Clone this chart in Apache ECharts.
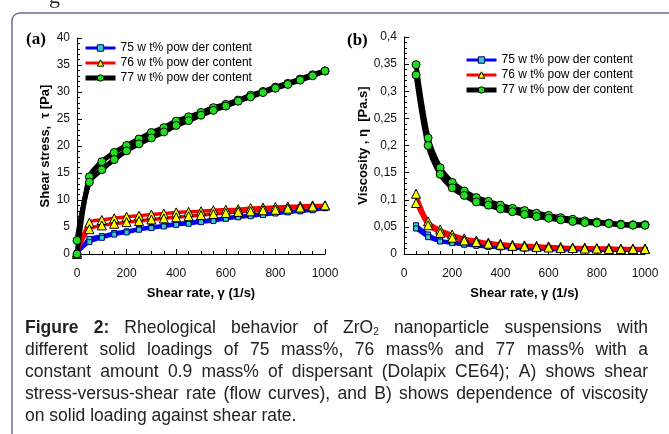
<!DOCTYPE html>
<html><head><meta charset="utf-8">
<script src="https://cdn.jsdelivr.net/npm/echarts@6/dist/echarts.min.js"></script>
<style>html,body{margin:0;padding:0;background:#fff}#c{width:669px;height:434px}</style>
</head><body><div id="c"></div>
<script>
// ---------- data ----------
const seriesNames = ['75 w t% pow der content', '76 w t% pow der content', '77 w t% pow der content'];

// (a) shear stress [Pa] vs shear rate [1/s]
const shearRate = [0,50,100,150,200,250,300,350,400,450,500,550,600,650,700,750,800,850,900,950,1000];
const stress75Up   = [0,2.8,3.3,3.9,4.2,4.7,5.0,5.3,5.6,5.9,6.1,6.4,6.7,7.0,7.2,7.4,7.6,7.8,8.0,8.2,8.5];
const stress75Down = [0.2,2.2,3.0,3.6,4.0,4.5,4.8,5.1,5.4,5.6,5.9,6.1,6.5,6.8,7.0,7.2,7.5,7.7,7.9,8.1,8.5];
const stress76Up   = [0,5.8,6.3,6.6,6.9,7.1,7.3,7.5,7.7,7.8,7.9,8.1,8.2,8.3,8.5,8.6,8.7,8.8,8.9,9.0,9.0];
const stress76Down = [0.3,4.6,5.3,5.6,5.9,6.1,6.4,6.6,6.8,7.0,7.2,7.4,7.6,7.8,7.9,8.1,8.2,8.4,8.6,8.8,9.0];
const stress77Up   = [0,14.3,17.1,18.8,20.1,21.3,22.5,23.4,24.6,25.4,26.2,27.1,27.7,28.5,29.4,30.1,30.9,31.6,32.4,33.2,33.9];
const stress77Down = [2.5,13.3,15.6,17.5,19.1,20.4,21.5,22.6,23.8,24.7,25.7,26.6,27.4,28.3,29.1,29.9,30.7,31.4,32.2,33.0,33.9];

// (b) viscosity [Pa.s] vs shear rate [1/s]
const viscRate = [50,100,150,200,250,300,350,400,450,500,550,600,650,700,750,800,850,900,950,1000];
const visc75Up   = [0.053,0.036,0.025,0.022,0.019,0.017,0.015,0.013,0.012,0.011,0.010,0.010,0.009,0.009,0.008,0.008,0.008,0.007,0.007,0.007];
const visc75Down = [0.047,0.031,0.023,0.020,0.017,0.015,0.013,0.012,0.011,0.010,0.009,0.009,0.008,0.008,0.008,0.007,0.007,0.007,0.007,0.007];
const visc76Up   = [0.111,0.060,0.045,0.036,0.029,0.025,0.021,0.019,0.017,0.016,0.015,0.014,0.013,0.012,0.012,0.011,0.011,0.010,0.010,0.010];
const visc76Down = [0.094,0.053,0.039,0.030,0.025,0.022,0.019,0.017,0.015,0.014,0.013,0.012,0.011,0.011,0.010,0.010,0.009,0.009,0.009,0.009];
const visc77Up   = [0.349,0.214,0.159,0.132,0.116,0.104,0.097,0.090,0.084,0.080,0.075,0.071,0.067,0.064,0.061,0.059,0.057,0.055,0.054,0.054];
const visc77Down = [0.330,0.200,0.147,0.122,0.108,0.096,0.090,0.083,0.078,0.073,0.069,0.066,0.063,0.060,0.058,0.057,0.056,0.054,0.053,0.053];

const captionLines = [
  'Figure 2: Rheological behavior of ZrO2 nanoparticle suspensions with',
  'different solid loadings of 75 mass%, 76 mass% and 77 mass% with a',
  'constant amount 0.9 mass% of dispersant (Dolapix CE64); A) shows shear',
  'stress-versus-shear rate (flow curves), and B) shows dependence of viscosity',
  'on solid loading against shear rate.'
];

// ---------- chart ----------
const FONT = '"Liberation Sans", Arial, sans-serif';
const chart = echarts.init(document.getElementById('c'), null, {renderer: 'canvas'});

const styles = [
  {color: '#0000ff', width: 3.5, legendWidth: 3, symbol: 'rect', size: 5, fill: '#33cccc', border: '#000066'},
  {color: '#ff0000', width: 3.5, legendWidth: 3, symbol: 'triangle', size: 9, fill: '#ffff00', border: '#000000'},
  {color: '#000000', width: 5, legendWidth: 5, symbol: 'circle', size: 8, fill: '#22dd22', border: '#000000'}
];

function pairs(xs, ys) { return xs.map((x, i) => [x, ys[i]]); }
function mk(k, xs, ys, idx) {
  const s = styles[k];
  return {
    type: 'line', name: seriesNames[k], xAxisIndex: idx, yAxisIndex: idx,
    data: pairs(xs, ys), smooth: 0.3, symbol: s.symbol, symbolSize: s.size,
    showAllSymbol: true, animation: false,
    lineStyle: {color: s.color, width: s.width},
    itemStyle: {color: s.fill, borderColor: s.border, borderWidth: 1},
    emphasis: {disabled: true}
  };
}

function xAxis(gi) {
  return {
    gridIndex: gi, type: 'value', min: 0, max: 1000, interval: 200,
    name: 'Shear rate, γ (1/s)', nameLocation: 'middle', nameGap: 33,
    nameTextStyle: {fontFamily: FONT, fontWeight: 'bold', fontSize: 13, color: '#000'},
    axisLine: {show: true, onZero: false, lineStyle: {color: '#000', width: 1}},
    axisTick: {show: true, inside: true, length: 5, lineStyle: {color: '#000'}},
    minorTick: {show: true, splitNumber: 4, length: 3, lineStyle: {color: '#000'}},
    axisLabel: {fontFamily: FONT, fontSize: 12, color: '#111', margin: 14, formatter: v => String(v)},
    splitLine: {show: false}, minorSplitLine: {show: false}
  };
}
function fmtComma(v) { return String(+v.toFixed(2)).replace('.', ','); }

const legendData = seriesNames.map((n, k) => ({
  name: n,
  lineStyle: {color: styles[k].color, width: styles[k].legendWidth},
  itemStyle: {color: styles[k].fill, borderColor: styles[k].border, borderWidth: 1}
}));
const legendCommon = {orient: 'vertical', itemWidth: 30, itemHeight: 8, itemGap: 3,
  textStyle: {fontFamily: FONT, fontSize: 12, color: '#000'}, data: legendData, selectedMode: false};

const option = {
  backgroundColor: '#fff',
  animation: false,
  grid: [
    {left: 77, top: 38, width: 248, height: 216},
    {left: 404, top: 37, width: 241, height: 217}
  ],
  xAxis: [xAxis(0), xAxis(1)],
  yAxis: [
    {
      gridIndex: 0, type: 'value', min: 0, max: 40, interval: 5,
      name: 'Shear stress,  τ [Pa]', nameLocation: 'middle', nameGap: 25,
      nameTextStyle: {fontFamily: FONT, fontWeight: 'bold', fontSize: 13, color: '#000'},
      axisLine: {show: true, onZero: false, lineStyle: {color: '#000'}},
      axisTick: {show: true, inside: true, length: 5, lineStyle: {color: '#000'}},
      minorTick: {show: true, splitNumber: 5, length: 3, lineStyle: {color: '#000'}},
      axisLabel: {fontFamily: FONT, fontSize: 12, color: '#111', margin: 7},
      splitLine: {show: false}
    },
    {
      gridIndex: 1, type: 'value', min: 0, max: 0.4, interval: 0.05,
      name: 'Viscosity , η  [Pa.s]', nameLocation: 'middle', nameGap: 32,
      nameTextStyle: {fontFamily: FONT, fontWeight: 'bold', fontSize: 13, color: '#000'},
      axisLine: {show: true, onZero: false, lineStyle: {color: '#000'}},
      axisTick: {show: true, inside: true, length: 5, lineStyle: {color: '#000'}},
      minorTick: {show: true, splitNumber: 5, length: 3, lineStyle: {color: '#000'}},
      axisLabel: {fontFamily: FONT, fontSize: 12, color: '#111', margin: 7, formatter: fmtComma},
      splitLine: {show: false}
    }
  ],
  legend: [
    Object.assign({left: 78, top: 37}, legendCommon),
    Object.assign({left: 459, top: 49}, legendCommon)
  ],
  series: [
    mk(0, shearRate, stress75Up, 0), mk(0, shearRate, stress75Down, 0),
    mk(1, shearRate, stress76Up, 0), mk(1, shearRate, stress76Down, 0),
    mk(2, shearRate, stress77Up, 0), mk(2, shearRate, stress77Down, 0),
    mk(0, viscRate, visc75Up, 1), mk(0, viscRate, visc75Down, 1),
    mk(1, viscRate, visc76Up, 1), mk(1, viscRate, visc76Down, 1),
    mk(2, viscRate, visc77Up, 1), mk(2, viscRate, visc77Down, 1)
  ],
  graphic: []
};

// ---------- caption & decorations ----------
const g = [];
g.push({type: 'rect', silent: true, shape: {x: 12, y: 13, width: 720, height: 520, r: 8},
        style: {fill: 'none', stroke: '#6a6aa8', lineWidth: 1.5}});
g.push({type: 'text', x: 49, y: -14, style: {text: 'g', font: '22px "Liberation Serif", serif', fill: '#333', verticalAlign: 'top'}});
g.push({type: 'text', x: 26, y: 40, style: {text: '(a)', font: 'bold 17px "Liberation Serif", serif', fill: '#000', verticalAlign: 'middle'}});
g.push({type: 'text', x: 347, y: 41, style: {text: '(b)', font: 'bold 17px "Liberation Serif", serif', fill: '#000', verticalAlign: 'middle'}});

const CAP_SIZE = 17.5, SUB_SIZE = 10;
const ctx = document.createElement('canvas').getContext('2d');
function mw(t, bold, size) { ctx.font = (bold ? 'bold ' : '') + size + 'px "Liberation Sans"'; return ctx.measureText(t).width; }
const capLeft = 25, capRight = 648, capTop = 328, capStep = 22;
captionLines.forEach((line, li) => {
  const words = line.split(' ');
  const items = words.map((w, wi) => {
    const bold = li === 0 && wi < 2;
    if (w === 'ZrO2') return {w, rich: true, width: mw('ZrO', false, CAP_SIZE) + mw('2', false, SUB_SIZE)};
    return {w, bold, width: mw(w, bold, CAP_SIZE)};
  });
  const total = items.reduce((a, b) => a + b.width, 0);
  const justify = li < captionLines.length - 1;
  const gap = justify ? (capRight - capLeft - total) / (items.length - 1) : mw(' ', false, CAP_SIZE);
  let x = capLeft;
  const y = capTop + li * capStep;
  items.forEach(it => {
    if (it.rich) {
      g.push({type: 'text', x, y, style: {text: 'ZrO', font: CAP_SIZE + 'px ' + FONT, fill: '#222', verticalAlign: 'middle'}});
      g.push({type: 'text', x: x + mw('ZrO', false, CAP_SIZE), y: y + 4, style: {text: '2', font: SUB_SIZE + 'px ' + FONT, fill: '#222', verticalAlign: 'middle'}});
    } else {
      g.push({type: 'text', x, y, style: {text: it.w, font: (it.bold ? 'bold ' : '') + CAP_SIZE + 'px ' + FONT, fill: '#222', verticalAlign: 'middle'}});
    }
    x += it.width + gap;
  });
});
option.graphic = g;
chart.setOption(option);
</script>
</body></html>
